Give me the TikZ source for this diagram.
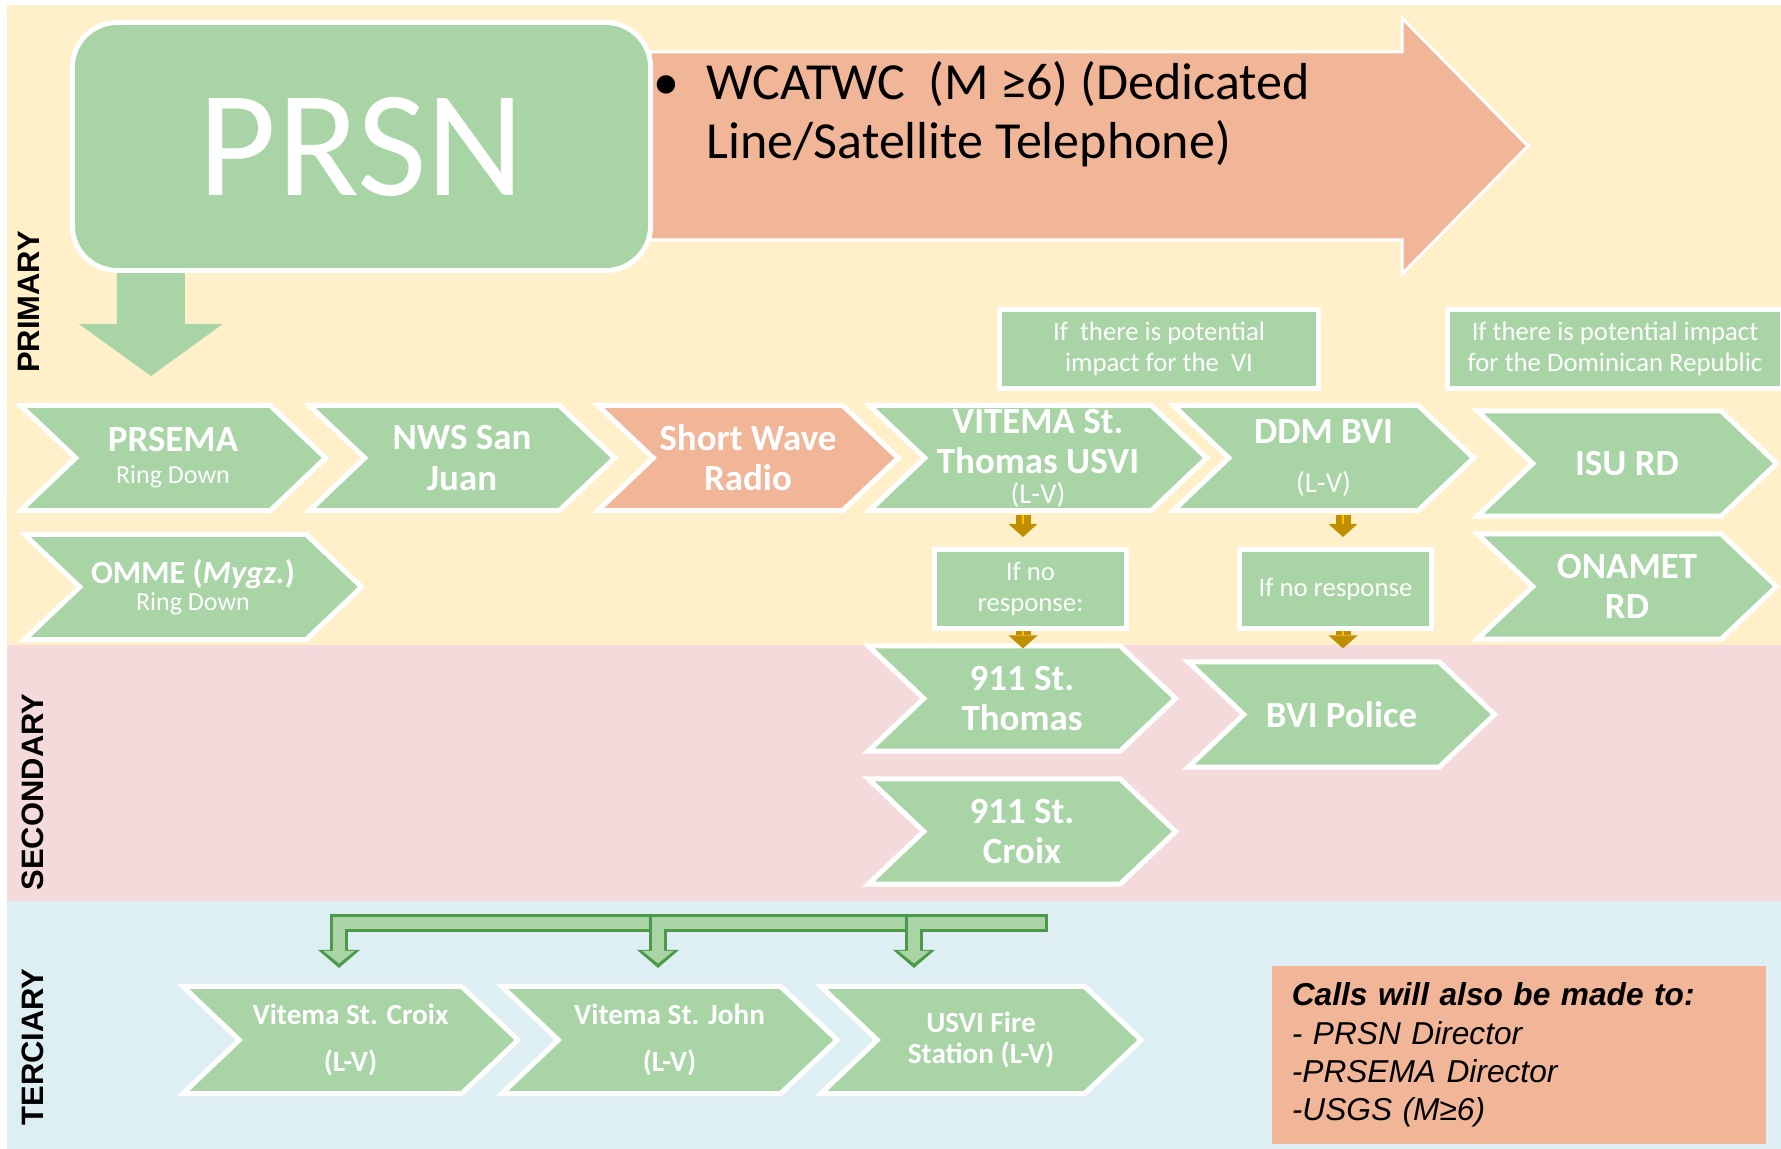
\documentclass[tikz,border=0pt]{standalone}
\usepackage{fontspec}
\setmainfont{Carlito}
\newfontfamily\arialfont{Liberation Sans}
\usetikzlibrary{arrows.meta,shapes.symbols}

\definecolor{bandyellow}{HTML}{FFF0CA}
\definecolor{bandpink}{HTML}{F5DADB}
\definecolor{bandblue}{HTML}{DEEFF3}
\definecolor{boxgreen}{HTML}{A8D4A6}
\definecolor{boxsalmon}{HTML}{F1B597}
\definecolor{arrowgreen}{HTML}{4C9A49}
\definecolor{arrowgold}{HTML}{BF8F00}
\definecolor{arrowamber}{HTML}{FFC000}

\tikzset{
  chev/.style={shape=signal, signal from=west, signal to=east,
    signal pointer angle=87, fill=boxgreen, draw=white, line width=0.05cm,
    text=white, align=center, inner sep=0pt, minimum height=1.05cm,
    font=\fontsize{10.5}{11.4}\selectfont\bfseries},
  smallchev/.style={chev, minimum height=1.07cm,
    font=\fontsize{8.3}{9.5}\selectfont\bfseries},
  infobox/.style={rectangle, fill=boxgreen, draw=white, line width=0.05cm,
    text=white, align=center, inner sep=0pt, minimum height=0.79cm,
    font=\fontsize{7.6}{8.8}\selectfont},
  tier/.style={rotate=90, inner sep=0pt,
    font=\arialfont\bfseries\fontsize{8.8}{10}\selectfont},
  bigdown/.style={draw=boxgreen, line width=0.68cm,
    -{Triangle[width=1.44cm,length=0.52cm,line width=0pt]}},
  golddown/.style={draw=arrowgold, line width=0.15cm,
    -{Triangle[width=0.29cm,length=0.13cm,line width=0pt]},
    postaction={draw=arrowamber, line width=0.025cm, shorten >=0.13cm, -}},
  bentarrow/.style={draw=arrowgreen, line width=0.18cm,
    -{Triangle[width=0.42cm,length=0.18cm,line width=0pt]},
    postaction={draw=boxgreen, line width=0.12cm, shorten <=0.03cm,
      shorten >=0.045cm, -{Triangle[width=0.31cm,length=0.125cm,line width=0pt]}}}
}

\begin{document}
\begin{tikzpicture}[x=0.01cm, y=-0.01cm]
  \useasboundingbox (0,0) rectangle (1781,1149);
  % bands
  \fill[bandyellow] (7,5) rectangle (1781,645);
  \fill[bandpink] (7,645) rectangle (1781,901);
  \fill[bandblue] (7,901) rectangle (1781,1149);

  % WCATWC arrow
  \filldraw[fill=boxsalmon, draw=white, line width=0.03cm]
    (650,52) -- (1402,52) -- (1402,18) -- (1528,146) -- (1402,274)
    -- (1402,240) -- (650,240) -- cycle;
  \node[anchor=north west, align=left, inner sep=0pt,
    font=\fontsize{14.8}{16.8}\selectfont] (wcatwc) at (706,61)
    {\llap{\textbullet\hspace{0.27cm}}WCATWC\ \ (M ≥6) (Dedicated\\Line/Satellite Telephone)};

  \node[rectangle, rounded corners=0.45cm, fill=boxgreen, draw=white,
    line width=0.05cm, minimum width=5.78cm, minimum height=2.48cm,
    text=white, font=\fontsize{43}{43}\selectfont] (prsn) at (361.5,146.5) {PRSN};

  % primary
  \node[chev, minimum width=3.05cm] (prsema) at (173,458)
    {PRSEMA\\[-0.08cm]{\fontsize{7.4}{8.5}\selectfont\mdseries Ring Down}};
  \node[chev, minimum width=3.05cm] (nws) at (462,458) {NWS San\\Juan};
  \node[chev, fill=boxsalmon, minimum width=3.00cm] (swr) at (748,458) {Short Wave\\Radio};
  \node[chev, minimum width=3.37cm] (vitema) at (1038,458)
    {VITEMA St.\\Thomas USVI\\[-0.10cm]{\fontsize{8.2}{9}\selectfont\mdseries (L-V)}};
  \node[chev, minimum width=3.00cm] (ddm) at (1323.5,458)
    {DDM BVI\\[0.09cm]{\fontsize{8.2}{9}\selectfont\mdseries (L-V)}};
  \node[chev, minimum width=2.99cm] (isu) at (1627,463.5) {ISU RD};
  \node[chev, minimum width=2.99cm] (onamet) at (1627,586.5) {ONAMET\\RD};
  \node[chev, minimum width=3.37cm] (omme) at (193,587)
    {{\fontsize{9.2}{10}\selectfont OMME (\textit{Mygz.})}\\[-0.13cm]{\fontsize{7.4}{8.5}\selectfont\mdseries Ring Down}};

  \node[infobox, minimum width=3.19cm] (ifvi) at (1159,349)
    {If\ \ there is potential\\impact for the\ \ VI};
  \node[infobox, minimum width=3.35cm] (ifdr) at (1615,349)
    {If there is potential impact\\for the Dominican Republic};
  \node[infobox, minimum width=1.92cm] (ifnovi) at (1030.5,589) {If no\\response:};
  \node[infobox, minimum width=1.92cm] (ifnoddm) at (1335.5,589) {If no response};

  % secondary
  \node[chev, minimum width=3.07cm] (t911) at (1022,698.5) {911 St.\\Thomas};
  \node[chev, minimum width=3.07cm] (c911) at (1022,831.5) {911 St.\\Croix};
  \node[chev, minimum width=3.06cm] (bvipol) at (1341.5,714.5) {BVI Police};

  % terciary
  \node[smallchev, minimum width=3.35cm] (vcroix) at (350.5,1040)
    {Vitema St. Croix\\[0.14cm](L-V)};
  \node[smallchev, minimum width=3.35cm] (vjohn) at (669.5,1040)
    {Vitema St. John\\[0.14cm](L-V)};
  \node[smallchev, minimum width=3.20cm] (usvi) at (981,1040)
    {USVI Fire\\[-0.02cm]Station (L-V)};

  \node[rectangle, fill=boxsalmon, minimum width=4.94cm, minimum height=1.78cm,
    text width=4.54cm, inner xsep=0.20cm, align=left,
    font=\arialfont\itshape\fontsize{9}{10.9}\selectfont] (calls) at (1519,1055)
    {\textbf{Calls will also be made to:}\\- PRSN Director\\-PRSEMA Director\\-USGS (M≥6)};

  \node[tier] (primary) at (29,302) {PRIMARY};
  \node[tier] (secondary) at (33,792) {SECONDARY};
  \node[tier] (terciary) at (33,1047) {TERCIARY};

  % connectors
  \draw[bigdown] ([xshift=0.81cm]prsn.south west) -- ([xshift=-0.22cm,yshift=0.27cm]prsema.north);
  \draw[golddown] ([xshift=-0.075cm,yshift=-0.02cm]ifnovi.north |- vitema.south)
    -- ([xshift=-0.075cm,yshift=0.10cm]ifnovi.north);
  \draw[golddown] ([xshift=-0.075cm]ifnovi.south)
    -- ([xshift=-0.075cm,yshift=-0.05cm]ifnovi.south |- t911.north);
  \draw[golddown] ([xshift=0.075cm,yshift=-0.02cm]ifnoddm.north |- ddm.south)
    -- ([xshift=0.075cm,yshift=0.10cm]ifnoddm.north);
  \draw[golddown] ([xshift=0.075cm]ifnoddm.south)
    -- ([xshift=0.075cm,yshift=0.11cm]ifnoddm.south |- bvipol.north);

  \coordinate (barend) at (1048,923);
  \draw[bentarrow] (barend) -| ([xshift=-0.115cm,yshift=0.16cm]vcroix.north);
  \draw[bentarrow] (barend) -| ([xshift=-0.115cm,yshift=0.16cm]vjohn.north);
  \draw[bentarrow] (barend) -| ([xshift=-0.67cm,yshift=0.16cm]usvi.north);
\end{tikzpicture}
\end{document}
